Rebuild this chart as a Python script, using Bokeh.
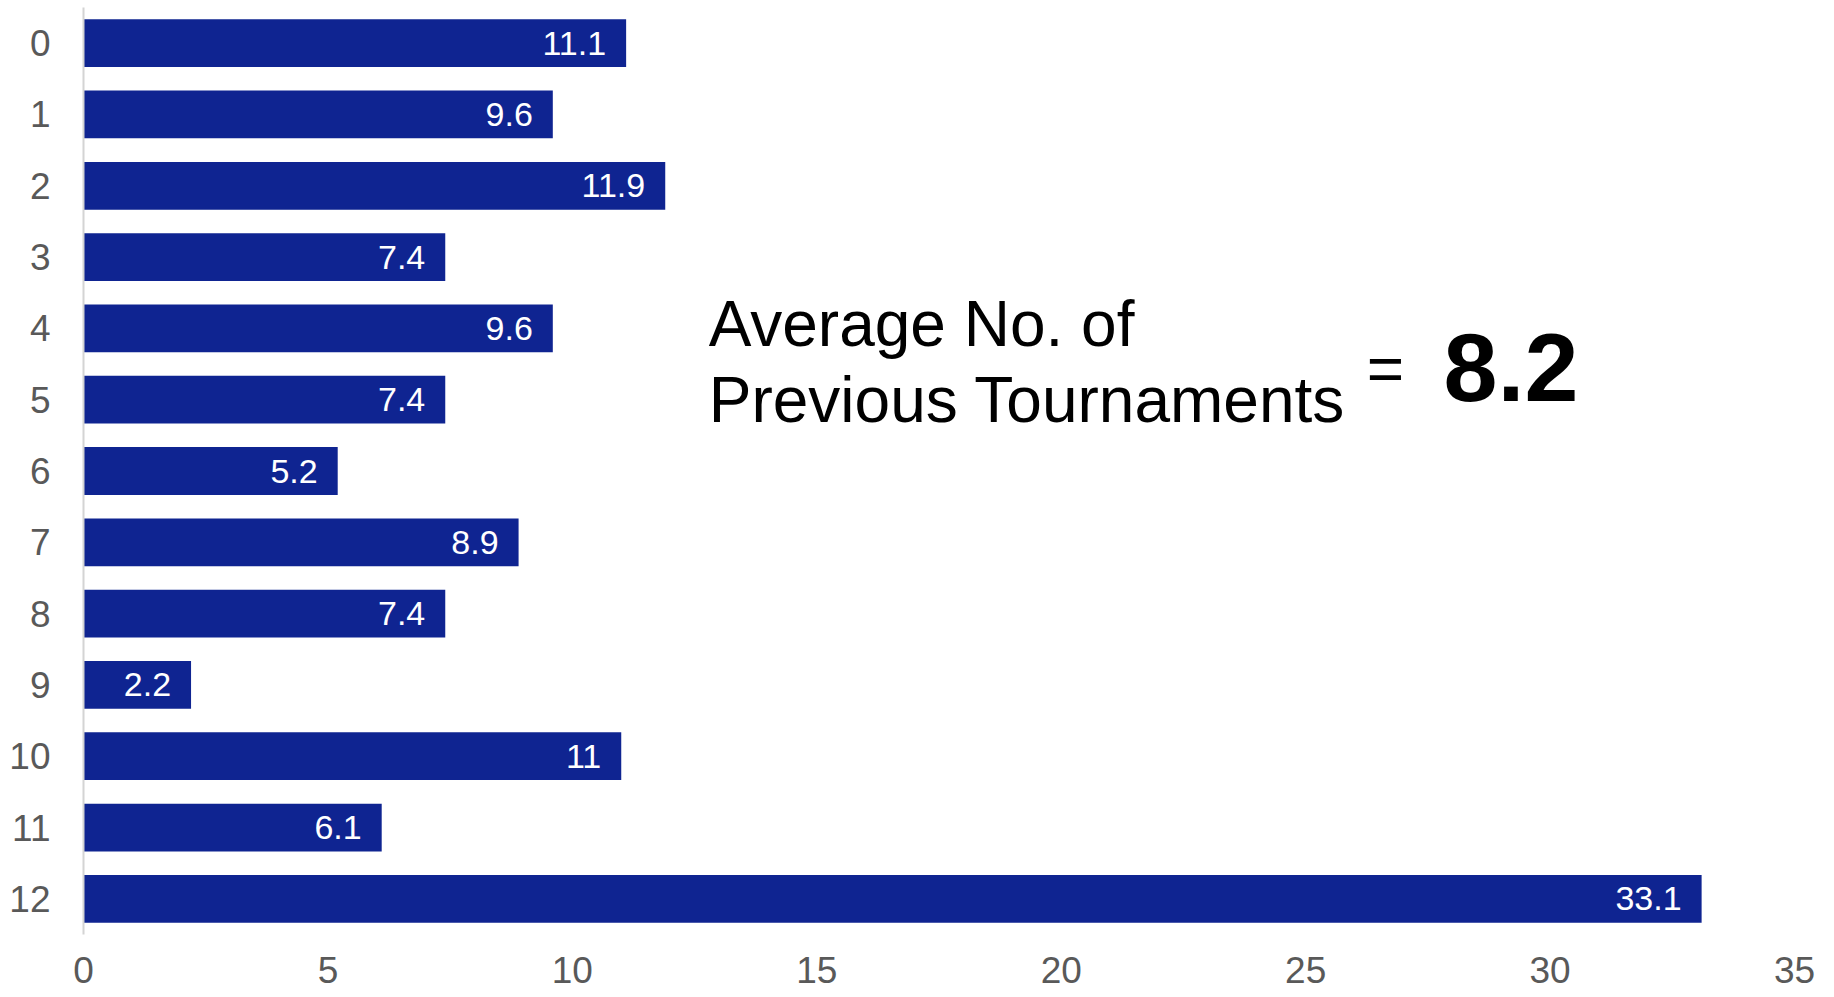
from bokeh.plotting import figure
from bokeh.models import ColumnDataSource, FactorRange, Range1d, Label, LabelSet, FixedTicker
from bokeh.core.properties import value
from bokeh.embed import file_html
from bokeh.resources import INLINE

categories = ["0", "1", "2", "3", "4", "5", "6", "7", "8", "9", "10", "11", "12"]
values = [11.1, 9.6, 11.9, 7.4, 9.6, 7.4, 5.2, 8.9, 7.4, 2.2, 11.0, 6.1, 33.1]
value_labels = ["11.1", "9.6", "11.9", "7.4", "9.6", "7.4", "5.2", "8.9", "7.4", "2.2", "11", "6.1", "33.1"]
x_ticks = [0, 5, 10, 15, 20, 25, 30, 35]
avg_line1 = "Average No. of"
avg_line2 = "Previous Tournaments"
avg_value = "8.2"

FONT = "Liberation Sans"
BAR = "#0f2491"

src = ColumnDataSource(dict(cat=categories, val=values, lab=value_labels))

p = figure(
    y_range=FactorRange(factors=list(reversed(categories)), range_padding=0),
    x_range=Range1d(0, 35),
    frame_width=1711, frame_height=927,
    min_border_left=83, min_border_right=25, min_border_top=7, min_border_bottom=60,
    output_backend="svg", toolbar_location=None,
)
p.hbar(y="cat", right="val", left=0, height=0.67, source=src, color=BAR, line_color=None)

p.add_layout(LabelSet(x="val", y="cat", text="lab", source=src, x_offset=-20,
                      text_align="right", text_baseline="middle", text_color="white",
                      text_font=value(FONT), text_font_size="34px"))

p.xaxis.ticker = FixedTicker(ticks=x_ticks)
for ax in (p.xaxis[0], p.yaxis[0]):
    ax.major_tick_line_color = None
    ax.minor_tick_line_color = None
    ax.major_label_text_font = FONT
    ax.major_label_text_font_size = "37px"
    ax.major_label_text_color = "#595959"
p.xaxis.axis_line_color = None
p.yaxis.axis_line_color = "#d4d4d4"
p.yaxis.axis_line_width = 2
p.yaxis.major_label_standoff = 27
p.xaxis.major_label_standoff = 16
p.xgrid.grid_line_color = None
p.ygrid.grid_line_color = None
p.outline_line_color = None

p.add_layout(Label(x=12.79, y=8.56, text=avg_line1, text_font=FONT, text_font_size="64px",
                   text_color="black", text_baseline="alphabetic"))
p.add_layout(Label(x=12.79, y=7.49, text=avg_line2, text_font=FONT, text_font_size="64px",
                   text_color="black", text_baseline="alphabetic"))
p.add_layout(Label(x=26.25, y=7.93, text="=", text_font=FONT, text_font_size="64px",
                   text_color="black", text_baseline="alphabetic"))
p.add_layout(Label(x=27.82, y=7.95, text=avg_value, text_font=FONT, text_font_size="97px",
                   text_font_style="bold", text_color="black", text_baseline="alphabetic"))

open("out.html", "w").write(file_html(p, INLINE))
